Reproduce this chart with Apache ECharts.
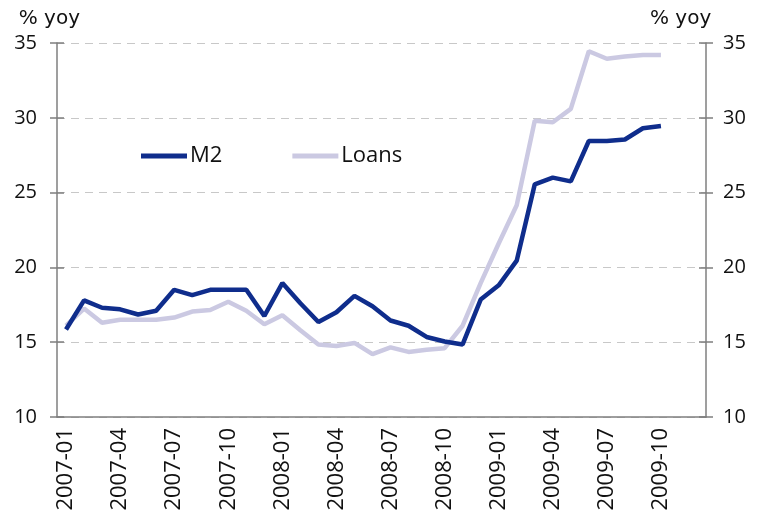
<!DOCTYPE html>
<html><head><meta charset="utf-8">
<script src="https://cdn.jsdelivr.net/npm/echarts@6/dist/echarts.min.js"></script>
<style>html,body{margin:0;padding:0;background:#fff}#c{width:765px;height:524px}</style>
</head><body><div id="c"></div>
<script>
const categories = ['2007-01','2007-02','2007-03','2007-04','2007-05','2007-06','2007-07','2007-08','2007-09','2007-10','2007-11','2007-12',
'2008-01','2008-02','2008-03','2008-04','2008-05','2008-06','2008-07','2008-08','2008-09','2008-10','2008-11','2008-12',
'2009-01','2009-02','2009-03','2009-04','2009-05','2009-06','2009-07','2009-08','2009-09','2009-10','2009-11','2009-12'];
const m2 = [15.85,17.8,17.3,17.2,16.85,17.1,18.5,18.15,18.5,18.5,18.5,16.75,
18.95,17.6,16.35,17.0,18.1,17.4,16.45,16.1,15.35,15.05,14.85,17.85,
18.8,20.45,25.55,26.0,25.75,28.45,28.45,28.55,29.3,29.45];
const loans = [16.1,17.25,16.3,16.5,16.5,16.5,16.65,17.05,17.15,17.7,17.1,16.2,
16.8,15.8,14.85,14.75,14.95,14.2,14.65,14.35,14.5,14.6,16.1,18.95,
21.6,24.15,29.8,29.7,30.6,34.45,33.95,34.1,34.2,34.2];
const yTicks = {min:10, max:35, interval:5};
const F = 'Open Sans, Lato, sans-serif';
const chart = echarts.init(document.getElementById('c'), null, {renderer:'canvas'});
const axisCol = '#7f7f7f';
function yAx(pos, main){
  return {
    type:'value', position:pos, min:yTicks.min, max:yTicks.max, interval:yTicks.interval,
    name: main ? '% yoy' : '', nameLocation:'end', nameGap:14,
    nameTextStyle:{fontFamily:'DejaVu Sans, sans-serif', fontSize:20, color:'#111', align: pos==='left'?'right':'left', padding: pos==='left'?[0,-23,0,0]:[0,0,0,-56]},
    axisLine:{show:main, lineStyle:{color:axisCol, width:1.5}},
    axisTick:{show:true, inside:!main, length:7, lineStyle:{color:axisCol, width:1.5}},
    axisLabel:{show:main, margin: pos==='left'?20:17, fontFamily:F, fontSize:20, color:'#111'},
    splitLine:{show: main && pos==='left', lineStyle:{color:'#c8c8c8', type:[8,6], width:1.2}}
  };
}
chart.setOption({
  animation:false,
  grid:{left:57, right:59, top:43, bottom:107, containLabel:false},
  legend:{left:136, top:140, icon:'rect', itemWidth:46, itemHeight:5, itemGap:70,
    textStyle:{fontFamily:F, fontSize:22, color:'#111', padding:[0,0,0,-2]},
    data:['M2','Loans']},
  xAxis:{type:'category', data:categories, boundaryGap:true,
    axisLine:{onZero:false, lineStyle:{color:axisCol, width:1.5}},
    axisTick:{interval:0, length:7, lineStyle:{color:axisCol, width:1.5}},
    axisLabel:{interval:2, rotate:90, margin:11, fontFamily:F, fontSize:22, color:'#111'}},
  yAxis:[yAx('left',true), yAx('right',true), yAx('left',false), yAx('right',false)],
  series:[
    {name:'M2', type:'line', data:m2, yAxisIndex:0, symbol:'none', z:3,
      lineStyle:{color:'#0f2d8c', width:4.5}, itemStyle:{color:'#0f2d8c'}},
    {name:'Loans', type:'line', data:loans, yAxisIndex:0, symbol:'none', z:2,
      lineStyle:{color:'#cbc9e2', width:4.5}, itemStyle:{color:'#cbc9e2'}}
  ]
});
</script></body></html>
